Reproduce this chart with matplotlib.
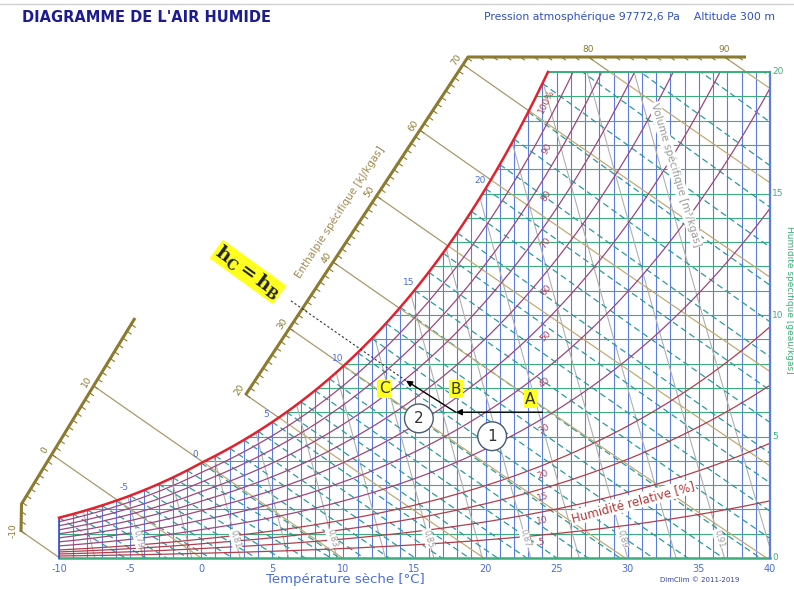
import numpy as np
import matplotlib
matplotlib.use("Agg")
import matplotlib.pyplot as plt
from matplotlib.path import Path
from matplotlib.patches import PathPatch
from matplotlib.lines import Line2D

plt.rcParams["mathtext.fontset"] = "dejavuserif"

# ---------------------------------------------------------------- data
P_ATM = 97772.6          # Pa
ALTITUDE_M = 300

t_ticks = [-10, -5, 0, 5, 10, 15, 20, 25, 30, 35, 40]
w_ticks = [0, 5, 10, 15, 20]
t_grid = list(range(-10, 41))
w_grid = list(range(0, 21))
rh_levels = [5, 10, 15, 20, 30, 40, 50, 60, 70, 80, 90, 100]
rh_labels = ["5", "10", "15", "20", "30", "40", "50", "60", "70", "80", "90", "100%"]
h_major = [-10, 0, 10, 20, 30, 40, 50, 60, 70, 80, 90]
wb_levels = list(range(-10, 31))
wb_labels = [-5, 0, 5, 10, 15, 20]
v_levels = [0.77, 0.78, 0.79, 0.80, 0.81, 0.82, 0.83, 0.84, 0.85, 0.86,
            0.87, 0.88, 0.89, 0.90, 0.91, 0.92]
v_labels = [0.79, 0.81, 0.83, 0.85, 0.87, 0.89, 0.91]

point_names = ["A", "B", "C"]
point_t = [24.0, 17.9, 14.4]
point_w = [6.0, 6.0, 7.3]
step_names = ["1", "2"]

# ---------------------------------------------------------------- colours
C_T = "#5d7ddc"
C_W = "#3cad7c"
C_WB = "#2a9a9e"
C_H = "#c2ab74"
C_SCALE = "#8c7a2e"
C_RH_LOW = "#b23e4c"
C_RH_HIGH = "#9c4680"
C_SAT = "#e3202e"
C_V = "#b0b0b0"
C_BLUE_TXT = "#4a6ed6"
C_GREEN_TXT = "#3cb07a"


# ---------------------------------------------------------------- moist air relations
def p_sat(t):
    t = np.asarray(t, float)
    water = 611.2 * np.exp(17.62 * t / (243.12 + t))
    ice = 611.2 * np.exp(22.46 * t / (272.62 + t))
    return np.where(t >= 0, water, ice)


def w_rh(t, phi):
    pv = phi * p_sat(t)
    return 622.0 * pv / (P_ATM - pv)


def t_of_h(h, w):
    return (h - 2.501 * w) / (1.006 + 0.00186 * w)


def h_of(t, w):
    return 1.006 * t + w * (2.501 + 0.00186 * t)


def w_wetbulb(t, twb):
    ws = w_rh(twb, 1.0) / 1000.0
    if twb >= 0:
        w = ((2501 - 2.326 * twb) * ws - 1.006 * (t - twb)) / (2501 + 1.86 * t - 4.186 * twb)
    else:
        w = ((2830 - 0.24 * twb) * ws - 1.006 * (t - twb)) / (2830 + 1.86 * t - 2.1 * twb)
    return 1000.0 * w


def t_of_v(v, w):
    return v * P_ATM / (287.055 * (1 + 1.6078 * w / 1000.0)) - 273.15


# ---------------------------------------------------------------- page geometry
W_PX, H_PX = 794, 590
X0, KX, Y0, KY = 59.0, 14.22, 558.0, 24.3


def px2d(x, y):
    return -10 + (x - X0) / KX, (Y0 - y) / KY


def scr_angle(dt, dw):
    return np.degrees(np.arctan2(dw * KY, dt * KX))


def shift(t, w, dx, dy):
    """move a data point by dx, dy screen pixels (dy upward)"""
    return t + dx / KX, w + dy / KY


fig = plt.figure(figsize=(W_PX / 100, H_PX / 100), dpi=100)
ax = fig.add_axes([0, 0, 1, 1])
ax.set_xlim(px2d(0, 0)[0], px2d(W_PX, 0)[0])
ax.set_ylim(px2d(0, H_PX)[1], px2d(0, 0)[1])
ax.axis("off")

# ---------------------------------------------------------------- chart outline
t_fine = np.linspace(-10, 40, 2001)
w_sat = w_rh(t_fine, 1.0)
t_top = float(np.interp(20.0, w_sat, t_fine))
sat_mask = t_fine <= t_top
sat_t = np.append(t_fine[sat_mask], t_top)
sat_w = np.append(w_sat[sat_mask], 20.0)

verts = [(-10, 0), (40, 0), (40, 20), (t_top, 20)]
verts += list(zip(sat_t[::-1], sat_w[::-1]))
verts += [(-10, 0)]
chart_path = Path(verts)
clip = PathPatch(chart_path, transform=ax.transData, facecolor="none", edgecolor="none")
ax.add_patch(clip)


def clipped(*args, **kw):
    for ln in ax.plot(*args, **kw):
        ln.set_clip_path(clip)


# dry-bulb verticals and humidity horizontals
for t in t_grid:
    clipped([t, t], [0, 21], color=C_T, lw=0.8, zorder=2)
for w in w_grid:
    clipped([-10, 41], [w, w], color=C_W, lw=0.8, zorder=2)

# specific volume lines
w_col = np.linspace(0, 21, 60)
for v in v_levels:
    clipped(t_of_v(v, w_col), w_col, color=C_V, lw=0.8, zorder=2)

# wet-bulb lines
for twb in wb_levels:
    tt = np.linspace(twb, 46, 300)
    clipped(tt, w_wetbulb(tt, twb), color=C_WB, lw=0.9, ls=(0, (5, 3)), zorder=3)

# enthalpy lines inside the chart
w_line = np.linspace(0, 25, 200)
for h in h_major:
    clipped(t_of_h(h, w_line), w_line, color=C_H, lw=0.9, zorder=3)

# relative humidity curves
for phi in rh_levels[:-1]:
    ww = w_rh(t_fine, phi / 100.0)
    clipped(t_fine, ww, color=C_RH_LOW if phi <= 20 else C_RH_HIGH, lw=0.9, zorder=4)
ax.plot(sat_t, sat_w, color=C_SAT, lw=1.8, zorder=6)

# borders
ax.plot([-10, 40], [0, 0], color=C_W, lw=1.8, zorder=5)
ax.plot([40, 40], [0, 20], color=C_T, lw=1.6, zorder=5)
ax.plot([t_top, 40], [20, 20], color=C_W, lw=1.4, zorder=5)
ax.plot([-10, -10], [0, float(w_rh(-10, 1.0))], color="#3050c8", lw=1.2, zorder=5)

# ---------------------------------------------------------------- enthalpy scale
scale_px = [
    [(21.0, 532.0), (21.5, 504.0), (135.0, 318.0)],
    [(245.5, 395.0), (468.0, 57.0), (746.0, 57.0)],
]
# unit vector along an enthalpy line, pointing into the chart (screen coords, y up)
u = np.array([2.501 / 1.006 * KX, -KY])
u = u / np.hypot(*u)

first_point = {}
labelled = set()
for poly in scale_px:
    pts = [px2d(*p) for p in poly]
    xs = [p[0] for p in pts]
    ys = [p[1] for p in pts]
    ax.plot(xs, ys, color=C_SCALE, lw=2.2, solid_capstyle="butt", zorder=7)
    for (ta, wa), (tb, wb) in zip(pts[:-1], pts[1:]):
        s = np.linspace(0, 1, 400)
        ts = ta + (tb - ta) * s
        wsg = wa + (wb - wa) * s
        hs = h_of(ts, wsg)
        dvec = np.array([(tb - ta) * KX, (wb - wa) * KY])
        dvec = dvec / np.hypot(*dvec)
        normal = np.array([-dvec[1], dvec[0]])
        rot = np.degrees(np.arctan2(dvec[1], dvec[0]))
        for h in range(int(np.ceil(hs[0])), int(np.floor(hs[-1])) + 1):
            tp = float(np.interp(h, hs, ts))
            wp = float(np.interp(h, hs, wsg))
            te, we = shift(tp, wp, 5 * u[0], 5 * u[1])
            ax.plot([tp, te], [wp, we], color=C_SCALE, lw=0.8, zorder=7)
            if h not in first_point:
                first_point[h] = (tp, wp)
            if h in h_major and h not in labelled:
                labelled.add(h)
                lt, lw_ = shift(tp, wp, 8 * normal[0], 8 * normal[1])
                ax.text(lt, lw_, str(h), rotation=rot, fontsize=6.5, color=C_SCALE,
                        ha="center", va="center", rotation_mode="anchor", zorder=8)

# enthalpy lines running from the scale to the chart
for h in h_major:
    if h not in first_point:
        continue
    tp, wp = first_point[h]
    wa = np.linspace(wp, 0, 600)
    ta = t_of_h(h, wa)
    inside = chart_path.contains_points(np.column_stack([ta, wa]))
    idx = int(np.argmax(inside)) if inside.any() else len(wa) - 1
    ax.plot(ta[: idx + 1], wa[: idx + 1], color="#a8996c", lw=0.9, zorder=3)

# ---------------------------------------------------------------- labels on curves
for twb in wb_labels:
    ws_ = float(w_rh(twb, 1.0))
    lt, lw_ = shift(twb, ws_, -6, 8)
    ax.text(lt, lw_, str(twb), fontsize=6.5, color=C_BLUE_TXT, ha="center", va="center", zorder=8)

for phi, lab in zip(rh_levels, rh_labels):
    tl = 23.5
    wl = float(w_rh(tl, phi / 100.0))
    dwdt = float(w_rh(tl + 0.05, phi / 100.0) - w_rh(tl - 0.05, phi / 100.0)) / 0.1
    ang = scr_angle(1.0, dwdt)
    a = np.radians(ang)
    nx, ny = np.sin(a), -np.cos(a)
    lt, lw_ = shift(tl, wl, 7 * nx + 5, 7 * ny)
    ax.text(lt, lw_, lab, rotation=ang, fontsize=6.5, color="#c03a3a" if phi >= 100 else "#b04050",
            ha="center", va="center", rotation_mode="anchor", zorder=8)

for v in v_labels:
    wl = 0.8
    tl = t_of_v(v, wl)
    ax.text(tl, wl, f"{v:.2f}".replace(".", ","), rotation=-75, fontsize=6, color="#999999",
            ha="center", va="center", rotation_mode="anchor", zorder=8,
            bbox=dict(boxstyle="square,pad=0.05", fc="white", ec="none"))

# axis names along the chart
ax.text(*px2d(633, 502), "Humidité relative [%]", rotation=15, fontsize=8.5, color="#b03838",
        ha="center", va="center", rotation_mode="anchor", zorder=9,
        bbox=dict(boxstyle="square,pad=0.1", fc="white", ec="none"))
ax.text(*px2d(676, 175), "Volume spécifique [m³/kgas]", rotation=-73, fontsize=7.5, color="#9a9a9a",
        ha="center", va="center", rotation_mode="anchor", zorder=9,
        bbox=dict(boxstyle="square,pad=0.1", fc="white", ec="none"))
ax.text(*px2d(340, 212), "Enthalpie spécifique [kJ/kgas]", rotation=57, fontsize=7.5, color="#a08a50",
        ha="center", va="center", rotation_mode="anchor", zorder=9)

# ---------------------------------------------------------------- axes ticks and titles
for t in t_ticks:
    ax.text(t, px2d(0, 569)[1], str(t), fontsize=7, color=C_BLUE_TXT, ha="center", va="center")
for w in w_ticks:
    ax.text(px2d(772, 0)[0], w, str(w), fontsize=6.5, color=C_GREEN_TXT, ha="left", va="center")
ax.text(*px2d(790, 300), "Humidité spécifique [geau/kgas]", rotation=-90, fontsize=6.5,
        color=C_GREEN_TXT, ha="center", va="center")
ax.text(*px2d(345, 580), "Température sèche [°C]", fontsize=9.5, color=C_BLUE_TXT, ha="center", va="center")
ax.text(*px2d(700, 580), "DimClim © 2011-2019", fontsize=5, color="#334499", ha="center", va="center")

fig.text(22 / W_PX, 1 - 18 / H_PX, "DIAGRAMME DE L'AIR HUMIDE", fontsize=10.5, fontweight="bold",
         color="#1c1c90", ha="left", va="center")
fig.text(775 / W_PX, 1 - 17 / H_PX,
         f"Pression atmosphérique {P_ATM:.1f}".replace(".", ",") + f" Pa    Altitude {ALTITUDE_M} m",
         fontsize=7.8, color="#3050c0", ha="right", va="center")
fig.add_artist(Line2D([0, 1], [1 - 4 / H_PX, 1 - 4 / H_PX], transform=fig.transFigure,
                      color="#d0d0d0", lw=1))

# ---------------------------------------------------------------- transformation A -> B -> C
tA, tB, tC = point_t
wA, wB, wC = point_w
arrow = dict(arrowstyle="-|>", color="black", lw=1.0, mutation_scale=9, shrinkA=0, shrinkB=0)
ax.annotate("", xy=(tB, wB), xytext=(tA, wA), arrowprops=arrow, zorder=10)
ax.annotate("", xy=(tC, wC), xytext=(tB, wB), arrowprops=arrow, zorder=10)

hC = h_of(tC, wC)
w_dot = np.linspace(wC, px2d(0, 300)[1], 50)
ax.plot(t_of_h(hC, w_dot), w_dot, color="#333333", lw=0.8, ls=(0, (2, 2)), zorder=10)

label_offsets = [(-12, 13), (0, 23), (-22, -8)]
for name, t, w, (dx, dy) in zip(point_names, point_t, point_w, label_offsets):
    ax.text(*shift(t, w, dx, dy), name, fontsize=11, color="#333333", ha="center", va="center",
            zorder=11, bbox=dict(boxstyle="square,pad=0.1", fc="#ffff20", ec="none"))

step_offsets = [(-7, -24), (-12, -22)]
mids = [((tA + tB) / 2, (wA + wB) / 2), ((tB + tC) / 2, (wB + wC) / 2)]
for name, (mt, mw), (dx, dy) in zip(step_names, mids, step_offsets):
    ax.text(*shift(mt, mw, dx, dy), name, fontsize=11, color="#333333", ha="center", va="center",
            zorder=11, bbox=dict(boxstyle="circle,pad=0.45", fc="white", ec="#4a5a70", lw=1.0))

ax.text(*px2d(248, 272), r"$\mathbf{h_C = h_B}$", rotation=-36, fontsize=14, color="#222222",
        ha="center", va="center", rotation_mode="anchor", zorder=11,
        bbox=dict(boxstyle="square,pad=0.05", fc="#ffff20", ec="none"))

fig.savefig("out.png", dpi=100)
